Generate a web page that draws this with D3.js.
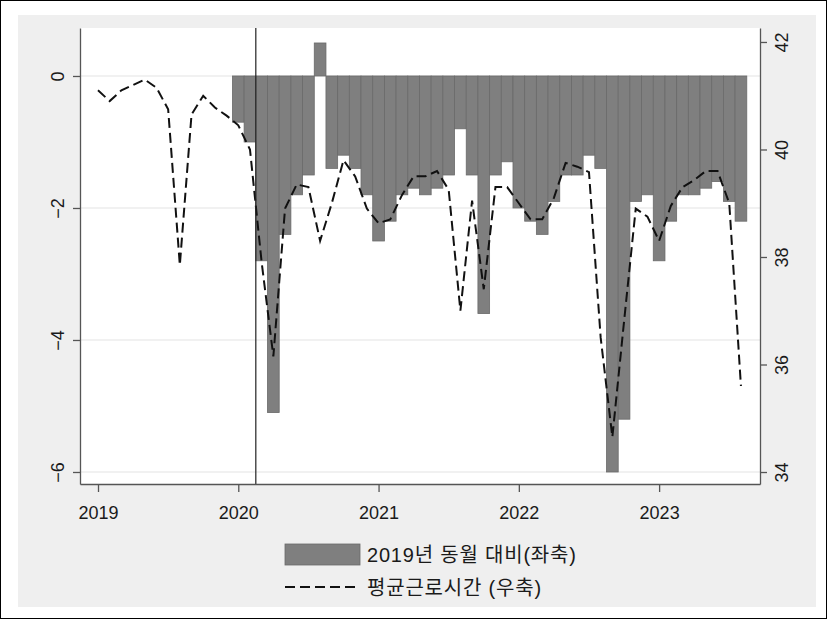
<!DOCTYPE html>
<html>
<head>
<meta charset="utf-8">
<script src="https://cdn.jsdelivr.net/npm/d3@7"></script>
<style>
  html, body { margin: 0; padding: 0; background: #ffffff; }
  svg { display: block; font-family: "Liberation Sans", Arial, "Noto Sans CJK KR", sans-serif; }
</style>
</head>
<body>
<svg id="chart" width="827" height="619"></svg>
<script>
// Average weekly working hours (right axis), monthly from 2019-01
const hoursStart = [2019, 1];
const avgHours = [
  41.1, 40.9, 41.1, 41.2, 41.3, 41.15, 40.75, 37.85, 40.65, 41.0, 40.78, 40.63,
  40.45, 40.0, 37.9, 36.15, 38.9, 39.35, 39.3, 38.3, 39.0, 39.8, 39.5, 38.9,
  38.63, 38.7, 39.15, 39.5, 39.5, 39.6, 39.25, 37.0, 39.05, 37.4, 39.3, 39.3,
  39.0, 38.7, 38.7, 39.1, 39.75, 39.68, 39.58, 36.5, 34.65, 36.8, 38.9, 38.75,
  38.3, 38.95, 39.3, 39.43, 39.6, 39.6, 39.0, 35.6
];

// Change versus the same month of 2019 (left axis), monthly from 2020-01
const diffStart = [2020, 1];
const diffVs2019 = [
  -0.7, -1.0, -2.8, -5.1, -2.4, -1.8, -1.5, 0.5, -1.4, -1.2, -1.4, -1.8,
  -2.5, -2.2, -1.8, -1.7, -1.8, -1.7, -1.5, -0.8, -1.5, -3.6, -1.5, -1.3,
  -2.0, -2.2, -2.4, -1.9, -1.5, -1.5, -1.2, -1.4, -6.0, -5.2, -1.9, -1.8,
  -2.8, -2.2, -1.8, -1.8, -1.7, -1.6, -1.9, -2.2
];

const yearTicks = [2019, 2020, 2021, 2022, 2023];
const leftTicks = [0, -2, -4, -6];
const rightTicks = [34, 36, 38, 40, 42];
const eventLine = 2020 + 1.5 / 12;   // between Feb and Mar 2020

const legendLabels = ["2019년 동월 대비(좌축)", "평균근로시간 (우축)"];

// month position on a fractional-year scale
const toYear = (start, i) => start[0] + (start[1] - 1 + i) / 12;

const svg = d3.select("#chart");
const W = 827, H = 619;
const plot = { left: 80, right: 760, top: 28, bottom: 484 };

// frame and backgrounds
svg.append("rect").attr("x", 0.5).attr("y", 0.5).attr("width", W - 1).attr("height", H - 1)
  .attr("fill", "#ffffff").attr("stroke", "#000").attr("stroke-width", 1);
svg.append("rect").attr("x", 18).attr("y", 15).attr("width", 798).attr("height", 592)
  .attr("fill", "#efefef");
svg.append("rect").attr("x", plot.left).attr("y", plot.top)
  .attr("width", plot.right - plot.left).attr("height", plot.bottom - plot.top)
  .attr("fill", "#ffffff");

const x = d3.scaleLinear()
  .domain([2019 - 1.54 / 12, 2019 + 56.63 / 12])
  .range([plot.left, plot.right]);
const yL = d3.scaleLinear().domain([-6.182, 0.727]).range([plot.bottom, plot.top]);
const yR = d3.scaleLinear().domain([33.777, 42.26]).range([plot.bottom, plot.top]);

// gridlines at left-axis ticks
svg.append("g").selectAll("line").data(leftTicks).join("line")
  .attr("x1", plot.left).attr("x2", plot.right)
  .attr("y1", d => yL(d)).attr("y2", d => yL(d))
  .attr("stroke", "#e4e4e4").attr("stroke-width", 1.2);

// bars
const barW = x(2019 + 1 / 12) - x(2019);
svg.append("g").selectAll("rect").data(diffVs2019).join("rect")
  .attr("x", (d, i) => x(toYear(diffStart, i)) - barW / 2)
  .attr("width", barW)
  .attr("y", d => Math.min(yL(0), yL(d)))
  .attr("height", d => Math.abs(yL(d) - yL(0)))
  .attr("fill", "#7f7f7f")
  .attr("stroke", "#6a6a6a").attr("stroke-width", 0.8);

// working hours line
const line = d3.line()
  .x((d, i) => x(toYear(hoursStart, i)))
  .y(d => yR(d));
svg.append("path").datum(avgHours)
  .attr("d", line)
  .attr("fill", "none").attr("stroke", "#111").attr("stroke-width", 2)
  .attr("stroke-dasharray", "10,5");

// vertical reference line
svg.append("line")
  .attr("x1", x(eventLine)).attr("x2", x(eventLine))
  .attr("y1", plot.top).attr("y2", plot.bottom)
  .attr("stroke", "#222").attr("stroke-width", 1.2);

const axisColor = "#555";
const labelColor = "#1a1a1a";
const fs = 18;

// left axis
const gL = svg.append("g").attr("transform", `translate(${plot.left},0)`)
  .call(d3.axisLeft(yL).tickValues(leftTicks).tickSize(7).tickSizeOuter(0).tickFormat(d3.format("d")));
gL.selectAll("text")
  .attr("x", 0).attr("y", 0).attr("dy", null)
  .attr("text-anchor", "middle").attr("dominant-baseline", "central")
  .attr("transform", "translate(-22,0) rotate(-90)");

// right axis
const gR = svg.append("g").attr("transform", `translate(${plot.right},0)`)
  .call(d3.axisRight(yR).tickValues(rightTicks).tickSize(7).tickSizeOuter(0).tickFormat(d3.format("d")));
gR.selectAll("text")
  .attr("x", 0).attr("y", 0).attr("dy", null)
  .attr("text-anchor", "middle").attr("dominant-baseline", "central")
  .attr("transform", "translate(22,0) rotate(-90)");

// bottom axis
const gB = svg.append("g").attr("transform", `translate(0,${plot.bottom})`)
  .call(d3.axisBottom(x).tickValues(yearTicks).tickSize(8).tickSizeOuter(0).tickFormat(d3.format("d")));
gB.selectAll("text").attr("y", 35).attr("dy", null);

[gL, gR, gB].forEach(g => {
  g.select(".domain").attr("stroke", axisColor).attr("stroke-width", 1.3);
  g.selectAll(".tick line").attr("stroke", axisColor).attr("stroke-width", 1.3);
  g.selectAll("text").attr("fill", labelColor).style("font-size", fs + "px")
    .style("font-family", '"Liberation Sans", Arial, sans-serif');
});

// legend
const lg = svg.append("g");
lg.append("rect").attr("x", 285).attr("y", 544).attr("width", 75).attr("height", 21)
  .attr("fill", "#7f7f7f").attr("stroke", "#6a6a6a").attr("stroke-width", 0.8);
lg.append("line").attr("x1", 285).attr("x2", 360).attr("y1", 587).attr("y2", 587)
  .attr("stroke", "#111").attr("stroke-width", 2).attr("stroke-dasharray", "10,5");
lg.selectAll("text").data(legendLabels).join("text")
  .attr("x", 367).attr("y", (d, i) => i === 0 ? 562 : 595)
  .attr("fill", labelColor).style("font-size", "20px").style("letter-spacing", "0.8px")
  .text(d => d);
</script>
</body>
</html>
